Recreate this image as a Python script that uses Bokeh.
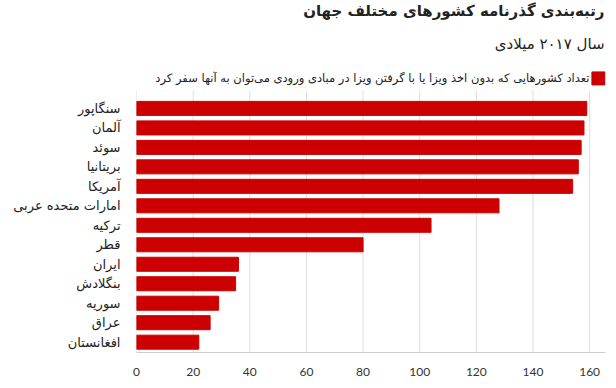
from bokeh.plotting import figure
from bokeh.models import Range1d, FixedTicker, ColumnDataSource
from bokeh.core.properties import value
from bokeh.embed import file_html
from bokeh.resources import INLINE

countries = ["سنگاپور", "آلمان", "سوئد", "بریتانیا", "آمریکا", "امارات متحده عربی",
             "ترکیه", "قطر", "ایران", "بنگلادش", "سوریه", "عراق", "افغانستان"]
values = [159, 158, 157, 156, 154, 128, 104, 80, 36, 35, 29, 26, 22]
x_ticks = [0, 20, 40, 60, 80, 100, 120, 140, 160]
title_text = "رتبه‌بندی گذرنامه کشورهای مختلف جهان"
subtitle_text = "سال ۲۰۱۷ میلادی"
legend_text = "تعداد کشورهایی که بدون اخذ ویزا یا با گرفتن ویزا در مبادی ورودی می‌توان به آنها سفر کرد"

pos = list(range(len(countries)))
src = ColumnDataSource(dict(y=pos, v=values, name=countries))

RED = "#cc0000"
FA = "DejaVu Sans"
Y_TOP = -0.92      # top of the bar area (data units)
Y_BOT = 12.53      # bottom of the bar area

p = figure(width=616, height=388, output_backend="svg", toolbar_location=None,
           x_range=Range1d(0, 165.6), y_range=Range1d(Y_BOT, -5.54),
           min_border_left=136, min_border_right=11, min_border_top=0,
           min_border_bottom=36)
p.outline_line_color = None
p.background_fill_color = "white"

# vertical grid lines over the bar area only
p.segment(x0=x_ticks, x1=x_ticks, y0=[Y_TOP] * len(x_ticks), y1=[Y_BOT] * len(x_ticks),
          line_color="#dddddd", line_width=1)

p.hbar(y="y", left=0, right="v", height=0.72, color=RED, source=src)

xa = p.xaxis[0]
xa.ticker = FixedTicker(ticks=x_ticks)
xa.axis_line_color = "#cccccc"
xa.major_tick_line_color = None
xa.minor_tick_line_color = None
xa.major_label_text_font = "Lato"
xa.major_label_text_font_size = "12px"
xa.major_label_text_color = "#333333"
xa.major_label_standoff = 9

ya = p.yaxis[0]
ya.ticker = FixedTicker(ticks=pos)
ya.major_label_overrides = {i: n for i, n in enumerate(countries)}
ya.axis_line_color = None
ya.major_tick_line_color = None
ya.minor_tick_line_color = None
ya.major_label_text_font = FA
ya.major_label_text_font_size = "13px"
ya.major_label_text_color = "#222222"
ya.major_label_standoff = 10

p.xgrid.visible = False
p.ygrid.visible = False

p.text(x=[165.25], y=[-5.0], text=[title_text], text_align="right",
       text_baseline="middle", text_font=value(FA), text_font_size="15px",
       text_font_style="bold", text_color="#222222")
p.text(x=[165.25], y=[-3.3], text=[subtitle_text], text_align="right",
       text_baseline="middle", text_font=value(FA), text_font_size="15px",
       text_color="#222222")
p.scatter(x=[163.1], y=[-1.54], marker="square", size=13, color=RED)
p.text(x=[159.95], y=[-1.54], text=[legend_text], text_align="right",
       text_baseline="middle", text_font=value(FA), text_font_size="11.5px",
       text_color="#222222")

open("out.html", "w").write(file_html(p, INLINE))
